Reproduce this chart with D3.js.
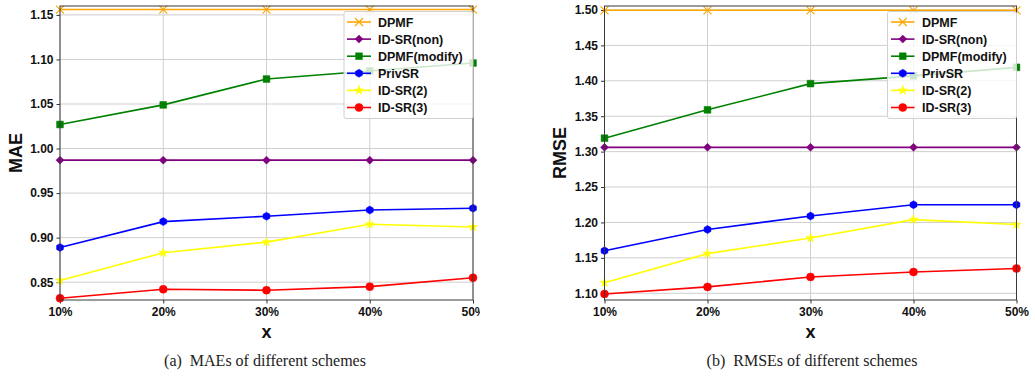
<!DOCTYPE html>
<html>
<head>
<meta charset="utf-8">
<script src="https://cdn.jsdelivr.net/npm/d3@7"></script>
<style>
  html, body { margin: 0; padding: 0; background: #fff; }
  svg { display: block; }
</style>
</head>
<body>
<svg id="chart" width="1035" height="379"></svg>
<script>
// ---------- data ----------
const categories = ["10%", "20%", "30%", "40%", "50%"];
const seriesNames = ["DPMF", "ID-SR(non)", "DPMF(modify)", "PrivSR", "ID-SR(2)", "ID-SR(3)"];
const seriesColors = ["#FFA500", "#800080", "#008000", "#0000FF", "#FFFF00", "#FF0000"];
const seriesMarkers = ["x", "diamond", "square", "hexagon", "star", "circle"];

const maeDPMF        = [1.156, 1.156, 1.156, 1.156, 1.156];
const maeIDSRnon     = [0.987, 0.987, 0.987, 0.987, 0.987];
const maeDPMFmodify  = [1.027, 1.049, 1.078, 1.087, 1.096];
const maePrivSR      = [0.889, 0.918, 0.924, 0.931, 0.933];
const maeIDSR2       = [0.852, 0.883, 0.895, 0.915, 0.912];
const maeIDSR3       = [0.832, 0.842, 0.841, 0.845, 0.855];
const maeTicks       = [0.85, 0.90, 0.95, 1.00, 1.05, 1.10, 1.15];

const rmseDPMF       = [1.4995, 1.4995, 1.4995, 1.4995, 1.4995];
const rmseIDSRnon    = [1.306, 1.306, 1.306, 1.306, 1.306];
const rmseDPMFmodify = [1.319, 1.359, 1.396, 1.407, 1.419];
const rmsePrivSR     = [1.160, 1.190, 1.209, 1.225, 1.225];
const rmseIDSR2      = [1.115, 1.156, 1.178, 1.204, 1.197];
const rmseIDSR3      = [1.099, 1.109, 1.123, 1.130, 1.135];
const rmseTicks      = [1.10, 1.15, 1.20, 1.25, 1.30, 1.35, 1.40, 1.45, 1.50];

const svg = d3.select("#chart");
const FONT = "'Liberation Sans', Arial, sans-serif";
const SERIF = "'Liberation Serif', 'Times New Roman', serif";

function markerPath(type, s) {
  const h = s / 2;
  switch (type) {
    case "x": return `M${-h},${-h}L${h},${h}M${-h},${h}L${h},${-h}`;
    case "diamond": return `M0,${-h}L${h},0L0,${h}L${-h},0Z`;
    case "square": { const q = h * 0.85; return `M${-q},${-q}H${q}V${q}H${-q}Z`; }
    case "hexagon": {
      let p = "";
      for (let i = 0; i < 6; i++) { const a = Math.PI / 3 * i + Math.PI / 6; p += (i ? "L" : "M") + (h * Math.cos(a)) + "," + (h * Math.sin(a)); }
      return p + "Z";
    }
    case "star": return d3.symbol(d3.symbolStar, s * s * 0.32)();
    case "circle": return d3.symbol(d3.symbolCircle, Math.PI * h * h)();
  }
}

function drawMarker(g, type, color, x, y, s) {
  const p = g.append("path").attr("d", markerPath(type, s)).attr("transform", `translate(${x},${y})`);
  if (type === "x") p.attr("fill", "none").attr("stroke", color).attr("stroke-width", 1.2);
  else p.attr("fill", color).attr("stroke", color).attr("stroke-width", 0.5);
}

function drawChart(opt) {
  const root = svg.append("g");
  const clipId = "clip" + opt.id;
  root.append("clipPath").attr("id", clipId).append("rect")
    .attr("x", opt.clip[0]).attr("y", 0).attr("width", opt.clip[1] - opt.clip[0]).attr("height", 379);
  const g = root.append("g").attr("clip-path", `url(#${clipId})`);

  const x = d3.scalePoint().domain(categories).range([opt.x0, opt.x1]);
  const y = d3.scaleLinear().domain(opt.domain).range([opt.yBottom, opt.yTop]);

  // grid
  g.append("g").selectAll("line").data(opt.ticks).join("line")
    .attr("x1", opt.x0).attr("x2", opt.x1)
    .attr("y1", d => y(d)).attr("y2", d => y(d))
    .attr("stroke", "#cfcfcf").attr("stroke-width", 1);
  g.append("g").selectAll("line").data(categories).join("line")
    .attr("x1", d => x(d)).attr("x2", d => x(d))
    .attr("y1", opt.yTop).attr("y2", opt.yBottom)
    .attr("stroke", "#cfcfcf").attr("stroke-width", 1);

  // axes
  const yAxis = d3.axisLeft(y).tickValues(opt.ticks).tickFormat(d3.format(".2f")).tickSize(3.5).tickPadding(3);
  const ya = g.append("g").attr("transform", `translate(${opt.x0},0)`).call(yAxis);
  const xAxis = d3.axisBottom(x).tickSize(3.5).tickPadding(4);
  const xa = g.append("g").attr("transform", `translate(0,${opt.yBottom})`).call(xAxis);
  [ya, xa].forEach(a => {
    a.select(".domain").remove();
    a.selectAll(".tick line").attr("stroke", "#333");
    a.selectAll(".tick text").attr("fill", "#111").attr("font-family", FONT)
      .attr("font-weight", "bold").attr("font-size", "12px");
  });

  // series
  const line = d3.line().x((d, i) => x(categories[i])).y(d => y(d));
  opt.series.forEach((vals, si) => {
    g.append("path").datum(vals).attr("d", line)
      .attr("fill", "none").attr("stroke", seriesColors[si]).attr("stroke-width", 1.6);
    vals.forEach((v, i) => drawMarker(g, seriesMarkers[si], seriesColors[si], x(categories[i]), y(v), si === 4 ? 9 : 8));
  });

  // frame
  g.append("rect").attr("x", opt.x0).attr("y", opt.yTop)
    .attr("width", opt.x1 - opt.x0).attr("height", opt.yBottom - opt.yTop)
    .attr("fill", "none").attr("stroke", "#3a3a3a").attr("stroke-width", 1);

  // legend
  const L = opt.legend;
  const lg = g.append("g");
  lg.append("rect").attr("x", L.x).attr("y", L.y).attr("width", L.w).attr("height", L.h)
    .attr("rx", 2).attr("fill", "#fff").attr("fill-opacity", 0.8)
    .attr("stroke", "#d0d0d0").attr("stroke-width", 1);
  seriesNames.forEach((name, i) => {
    const yy = L.y + 10.5 + i * 17.1;
    lg.append("line").attr("x1", L.lx0).attr("x2", L.lx1).attr("y1", yy).attr("y2", yy)
      .attr("stroke", seriesColors[i]).attr("stroke-width", 1.6);
    drawMarker(lg, seriesMarkers[i], seriesColors[i], (L.lx0 + L.lx1) / 2, yy, i === 4 ? 9 : 8);
    lg.append("text").attr("x", L.tx).attr("y", yy).attr("dy", "0.36em")
      .attr("font-family", FONT).attr("font-weight", "bold").attr("font-size", "12.5px")
      .attr("fill", "#111").text(name);
  });

  // axis labels
  g.append("text").attr("transform", `translate(${opt.ylabX},${(opt.yTop + opt.yBottom) / 2}) rotate(-90)`)
    .attr("text-anchor", "middle").attr("dy", "0.36em")
    .attr("font-family", FONT).attr("font-weight", "bold").attr("font-size", "18px")
    .attr("fill", "#111").text(opt.ylabel);
  g.append("text").attr("x", (opt.x0 + opt.x1) / 2).attr("y", 332).attr("dy", "0.36em")
    .attr("text-anchor", "middle")
    .attr("font-family", FONT).attr("font-weight", "bold").attr("font-size", "18px")
    .attr("fill", "#111").text("x");

  // caption
  root.append("text").attr("x", opt.capX).attr("y", 366)
    .attr("text-anchor", "middle").attr("font-family", SERIF).attr("font-size", "16px")
    .attr("fill", "#222").attr("xml:space", "preserve").style("white-space", "pre").text(opt.caption);
}

drawChart({
  id: "a", clip: [0, 480],
  x0: 60, x1: 473, yTop: 6, yBottom: 300,
  domain: [0.830, 1.160], ticks: maeTicks,
  series: [maeDPMF, maeIDSRnon, maeDPMFmodify, maePrivSR, maeIDSR2, maeIDSR3],
  legend: { x: 344, y: 11.5, w: 129, h: 107, lx0: 347, lx1: 371, tx: 378 },
  ylabel: "MAE", ylabX: 15.5,
  caption: "(a)  MAEs of different schemes", capX: 265
});

drawChart({
  id: "b", clip: [520, 1035],
  x0: 604.5, x1: 1016.5, yTop: 6, yBottom: 300,
  domain: [1.0905, 1.5056], ticks: rmseTicks,
  series: [rmseDPMF, rmseIDSRnon, rmseDPMFmodify, rmsePrivSR, rmseIDSR2, rmseIDSR3],
  legend: { x: 887.5, y: 11.5, w: 129, h: 107, lx0: 891, lx1: 914.5, tx: 922 },
  ylabel: "RMSE", ylabX: 560,
  caption: "(b)  RMSEs of different schemes", capX: 812
});
</script>
</body>
</html>
